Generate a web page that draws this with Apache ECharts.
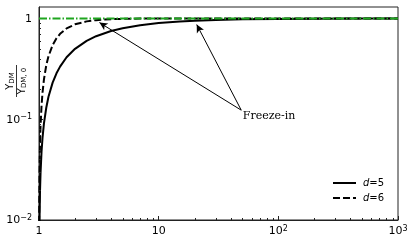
<!DOCTYPE html>
<html><head><meta charset="utf-8">
<script src="https://cdn.jsdelivr.net/npm/echarts@6/dist/echarts.min.js"></script>
<style>html,body{margin:0;padding:0;background:#fff}#c{width:415px;height:245px}</style>
</head><body><div id="c"></div>
<script>
// d = 5 (solid)
const solidX = [1.005, 1.01, 1.02, 1.03, 1.05, 1.07, 1.1, 1.15, 1.2, 1.3, 1.4, 1.5, 1.7, 2, 2.5, 3, 4, 5, 7, 10, 15, 20, 30, 50, 100, 200, 500, 1000];
const solidY = [0.005, 0.0099, 0.0196, 0.0291, 0.0476, 0.0654, 0.0909, 0.130, 0.167, 0.231, 0.286, 0.333, 0.412, 0.5, 0.6, 0.667, 0.75, 0.8, 0.857, 0.9, 0.933, 0.95, 0.967, 0.98, 0.99, 0.995, 0.998, 0.999];
// d = 6 (dashed)
const dashX = [1.001, 1.0033, 1.005, 1.01, 1.02, 1.03, 1.05, 1.07, 1.1, 1.15, 1.2, 1.3, 1.4, 1.5, 1.7, 2, 2.5, 3, 4, 5, 7, 10, 20, 100, 1000];
const dashY = [0.003, 0.0098, 0.0149, 0.0294, 0.0577, 0.0849, 0.136, 0.184, 0.249, 0.343, 0.421, 0.545, 0.636, 0.704, 0.797, 0.875, 0.936, 0.963, 0.984, 0.992, 0.997, 0.999, 0.9999, 1.0, 1.0];
// reference level
const refX = [1, 1000];
const refY = [1, 1];
const legendNames = ['d=5', 'd=6'];
// log minor tick values
const xMinorTicks = [2, 3, 4, 5, 6, 7, 8, 9, 20, 30, 40, 50, 60, 70, 80, 90, 200, 300, 400, 500, 600, 700, 800, 900];
const yMinorTicks = [0.02, 0.03, 0.04, 0.05, 0.06, 0.07, 0.08, 0.09, 0.2, 0.3, 0.4, 0.5, 0.6, 0.7, 0.8, 0.9];
// annotation (data coords)
const annoFrom = [49, 0.123];
const annoTo = [[3.2, 0.91], [20.8, 0.87]];
const annoText = 'Freeze-in';
const annoTextAt = [50.5, 0.107];

const X_MIN = 1, X_MAX = 1000, Y_MIN = 0.01, Y_MAX = 1.3;
const zip = (a, b) => a.map((v, i) => [v, b[i]]);
const chart = echarts.init(document.getElementById('c'), null, {renderer: 'canvas'});
const sans = 'DejaVu Sans';
const supRich = {
  b: {fontFamily: sans, fontSize: 11, color: '#000', lineHeight: 12, verticalAlign: 'bottom'},
  s: {fontFamily: sans, fontSize: 8, color: '#000', lineHeight: 8, verticalAlign: 'top', padding: [0, 0, 5, 0]}
};
function logLabel(v) {
  const l = Math.log10(v);
  const e = Math.round(l);
  if (Math.abs(l - e) > 1e-6) return '';
  if (e === 0) return '{b|1}';
  if (e === 1) return '{b|10}';
  return '{b|10}{s|' + (e < 0 ? '\u2212' + (-e) : e) + '}';
}
const axisLine = {show: true, lineStyle: {color: '#222', width: 1}};
chart.setOption({
  animation: false,
  backgroundColor: '#fff',
  grid: {left: 39, right: 17, top: 7, bottom: 25, show: true, borderColor: '#222', borderWidth: 1,
         containLabel: false, outerBoundsMode: 'none'},
  legend: {
    left: 327, top: 173, orient: 'vertical', itemWidth: 23, itemHeight: 12, itemGap: 5,
    data: legendNames,
    itemStyle: {opacity: 0},
    formatter: n => '{i|d}{t|=' + n.slice(2) + '}',
    textStyle: {padding: [0, 0, 0, 2], rich: {
      i: {fontFamily: sans, fontSize: 10, fontStyle: 'italic', color: '#000'},
      t: {fontFamily: sans, fontSize: 10, color: '#000'}
    }}
  },
  xAxis: {
    type: 'log', logBase: 10, min: X_MIN, max: X_MAX, interval: 1,
    axisLine: axisLine,
    axisTick: {show: true, inside: true, length: 4, lineStyle: {color: '#222'}},
    minorTick: {show: false},
    splitLine: {show: false},
    axisLabel: {margin: 5, formatter: logLabel, rich: supRich, showMaxLabel: true, showMinLabel: true},
    name: '{it|T}{sub|RH}{n|/}{it|T}',
    nameLocation: 'middle', nameGap: 6,
    nameTextStyle: {rich: {
      it: {fontFamily: sans, fontSize: 11, fontStyle: 'italic', color: '#000', lineHeight: 11, verticalAlign: 'top'},
      n: {fontFamily: sans, fontSize: 11, color: '#000', lineHeight: 11, verticalAlign: 'top'},
      sub: {fontFamily: sans, fontSize: 7.5, color: '#000', lineHeight: 7, verticalAlign: 'bottom', padding: [7, 0, 0, 0]}
    }}
  },
  yAxis: {
    type: 'log', logBase: 10, min: Y_MIN, max: Y_MAX, interval: 1,
    axisLine: axisLine,
    axisTick: {show: true, inside: true, length: 4, lineStyle: {color: '#222'}},
    minorTick: {show: false},
    splitLine: {show: false},
    axisLabel: {margin: 7, formatter: logLabel, rich: supRich, showMaxLabel: false}
  },
  graphic: [{
    type: 'group', x: 16.5, y: 81, rotation: Math.PI / 2,
    children: [
      {type: 'text', x: 0, y: -1, style: {text: '{a|Y}{s|DM}', align: 'center', verticalAlign: 'bottom',
        rich: {a: {fontFamily: sans, fontSize: 10, lineHeight: 10, verticalAlign: 'top', fill: '#000'},
               s: {fontFamily: sans, fontSize: 7, lineHeight: 7, verticalAlign: 'bottom', padding: [6, 0, 0, 0], fill: '#000'}}}},
      {type: 'line', shape: {x1: -16, y1: 0, x2: 16, y2: 0}, style: {stroke: '#000', lineWidth: 0.8}},
      {type: 'text', x: 0, y: 1, style: {text: '{a|Y}{s|DM, 0}', align: 'center', verticalAlign: 'top',
        rich: {a: {fontFamily: sans, fontSize: 10, lineHeight: 10, verticalAlign: 'top', fill: '#000'},
               s: {fontFamily: sans, fontSize: 7, lineHeight: 7, verticalAlign: 'bottom', padding: [6, 0, 0, 0], fill: '#000'}}}}
    ]
  }],
  series: [
    {name: legendNames[0], type: 'line', data: zip(solidX, solidY), symbol: 'none', clip: true, z: 3,
     lineStyle: {color: '#000', width: 2, type: 'solid'}, itemStyle: {color: '#000'},
     markLine: {silent: true, symbol: ['none', 'arrow'], symbolSize: [6, 8], animation: false,
       lineStyle: {color: '#000', width: 1, type: 'solid'}, label: {show: false},
       data: annoTo.map(t => [{coord: annoFrom}, {coord: t}])},
     markPoint: {silent: true, symbol: 'circle', symbolSize: 0,
       data: [{coord: annoTextAt, value: annoText}],
       label: {show: true, position: 'inside', align: 'left', verticalAlign: 'middle', formatter: annoText,
         fontFamily: 'DejaVu Serif', fontSize: 11, color: '#000'}}},
    {name: legendNames[1], type: 'line', data: zip(dashX, dashY), symbol: 'none', clip: true, z: 3,
     lineStyle: {color: '#000', width: 2, type: [7, 3]}, itemStyle: {color: '#000'}},
    {name: 'ref', type: 'line', data: zip(refX, refY), symbol: 'none', z: 4,
     lineStyle: {color: '#1fa51f', width: 1.8, type: [8, 2, 1.5, 2]}, itemStyle: {color: '#1fa51f'}},
    {name: 'xminor', type: 'custom', silent: true, z: 5, data: xMinorTicks.map(v => [v]),
     encode: {x: 0},
     renderItem: (params, api) => {
       const p = api.coord([api.value(0), Y_MIN]);
       return {type: 'line', shape: {x1: Math.round(p[0]) + 0.5, y1: p[1], x2: Math.round(p[0]) + 0.5, y2: p[1] - 2},
               style: {stroke: '#222', lineWidth: 1}};
     }},
    {name: 'yminor', type: 'custom', silent: true, z: 5, data: yMinorTicks.map(v => [X_MIN, v]),
     encode: {x: 0, y: 1},
     renderItem: (params, api) => {
       const p = api.coord([X_MIN, api.value(1)]);
       return {type: 'line', shape: {x1: p[0], y1: Math.round(p[1]) + 0.5, x2: p[0] + 2, y2: Math.round(p[1]) + 0.5},
               style: {stroke: '#222', lineWidth: 1}};
     }}
  ]
});
</script></body></html>
